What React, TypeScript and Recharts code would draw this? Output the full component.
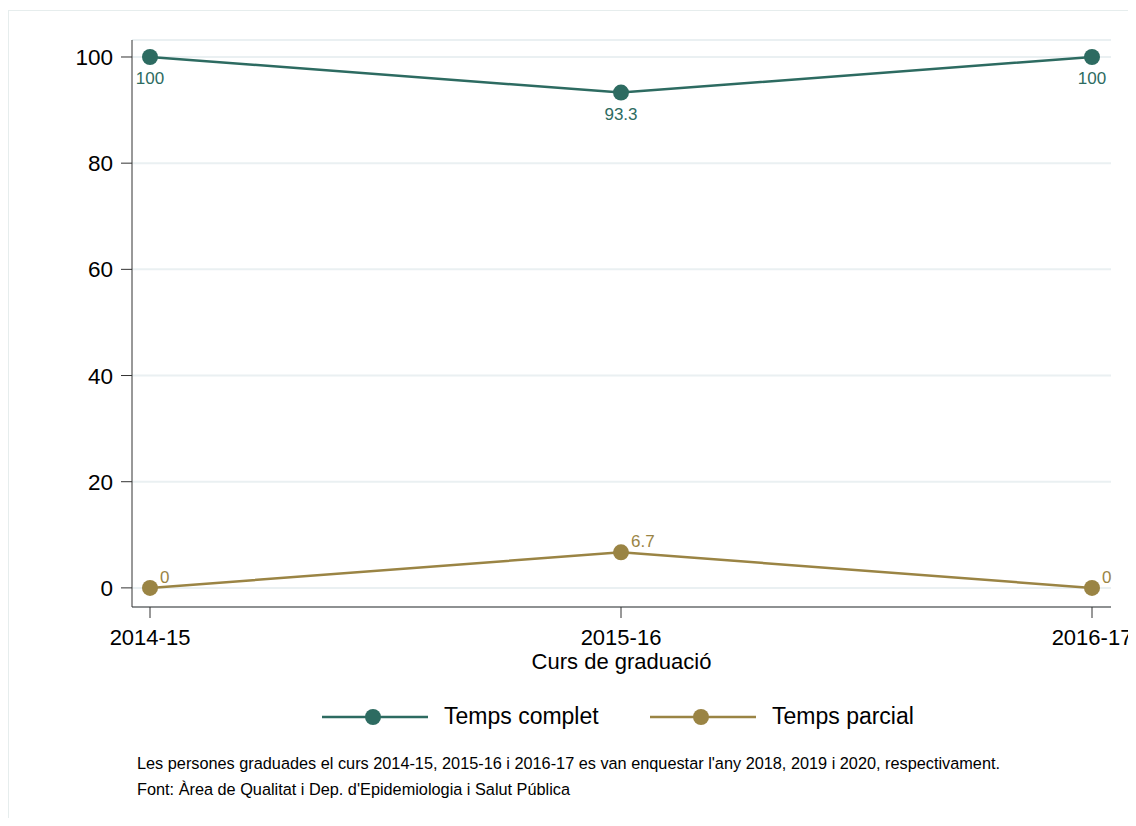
import { LineChart, Line, XAxis, YAxis, CartesianGrid, LabelList } from 'recharts'

const cursos = ['2014-15', '2015-16', '2016-17']
const tempsComplet = [100, 93.3, 100]
const tempsParcial = [0, 6.7, 0]
const yTicks = [0, 20, 40, 60, 80, 100]

const data = cursos.map((curs, i) => ({
  curs,
  complet: tempsComplet[i],
  parcial: tempsParcial[i],
}))

const TEAL = '#2d6b61'
const GOLD = '#9a8444'
const FONT = '"Liberation Sans", Arial, sans-serif'

const parcialLabel = (props: any) => {
  const { x, y, value } = props
  return (
    <text x={x + 10} y={y - 5} fill={GOLD} fontSize={17} fontFamily={FONT} textAnchor="start">
      {value}
    </text>
  )
}

function LegendItem({ color, label, left }: { color: string; label: string; left: number }) {
  return (
    <div style={{ position: 'absolute', left, top: 692, display: 'flex', alignItems: 'center' }}>
      <svg width={110} height={24}>
        <line x1={2} y1={12} x2={108} y2={12} stroke={color} strokeWidth={2.5} />
        <circle cx={53} cy={12} r={8} fill={color} />
      </svg>
      <span style={{ marginLeft: 14, fontSize: 23, fontFamily: FONT, color: '#000' }}>{label}</span>
    </div>
  )
}

export default function App() {
  return (
    <div
      style={{
        position: 'relative',
        marginTop: 2,
        width: 1128,
        height: 808,
        boxSizing: 'border-box',
        borderTop: '1px solid #e6eded',
        borderLeft: '1px solid #e6eded',
        background: '#fff',
      }}
    >
      <LineChart
        width={1126}
        height={680}
        data={data}
        style={{ overflow: 'visible' }}
        margin={{ top: 29, right: 24, left: 43, bottom: 14 }}
      >
        <CartesianGrid vertical={false} stroke="#eaf0f2" strokeWidth={2} />
        <XAxis
          dataKey="curs"
          padding={{ left: 18, right: 19 }}
          stroke="#333"
          tickSize={11}
          tickMargin={11}
          height={70}
          tick={{ fill: '#000', fontSize: 22, fontFamily: FONT }}
          label={{
            value: 'Curs de graduació',
            position: 'insideBottom',
            offset: 8,
            fill: '#000',
            fontSize: 22,
            fontFamily: FONT,
          }}
        />
        <YAxis
          width={80}
          domain={[-3.6, 103.2]}
          ticks={yTicks}
          stroke="#333"
          tickSize={11}
          tickMargin={8}
          tick={{ fill: '#000', fontSize: 22.5, fontFamily: FONT }}
        />
        <Line
          dataKey="complet"
          stroke={TEAL}
          strokeWidth={2.5}
          dot={{ r: 8, fill: TEAL, stroke: TEAL, strokeWidth: 0 }}
          activeDot={false}
          isAnimationActive={false}
        >
          <LabelList dataKey="complet" position="bottom" offset={15} fill={TEAL} fontSize={17} fontFamily={FONT} />
        </Line>
        <Line
          dataKey="parcial"
          stroke={GOLD}
          strokeWidth={2.5}
          dot={{ r: 8, fill: GOLD, stroke: GOLD, strokeWidth: 0 }}
          activeDot={false}
          isAnimationActive={false}
        >
          <LabelList dataKey="parcial" content={parcialLabel} />
        </Line>
      </LineChart>
      <LegendItem color={TEAL} label="Temps complet" left={311} />
      <LegendItem color={GOLD} label="Temps parcial" left={639} />
      <div style={{ position: 'absolute', left: 128, top: 739, fontSize: 16.3, fontFamily: FONT, color: '#000', lineHeight: '26px' }}>
        <div>Les persones graduades el curs 2014-15, 2015-16 i 2016-17 es van enquestar l'any 2018, 2019 i 2020, respectivament.</div>
        <div>Font: Àrea de Qualitat i Dep. d'Epidemiologia i Salut Pública</div>
      </div>
    </div>
  )
}
